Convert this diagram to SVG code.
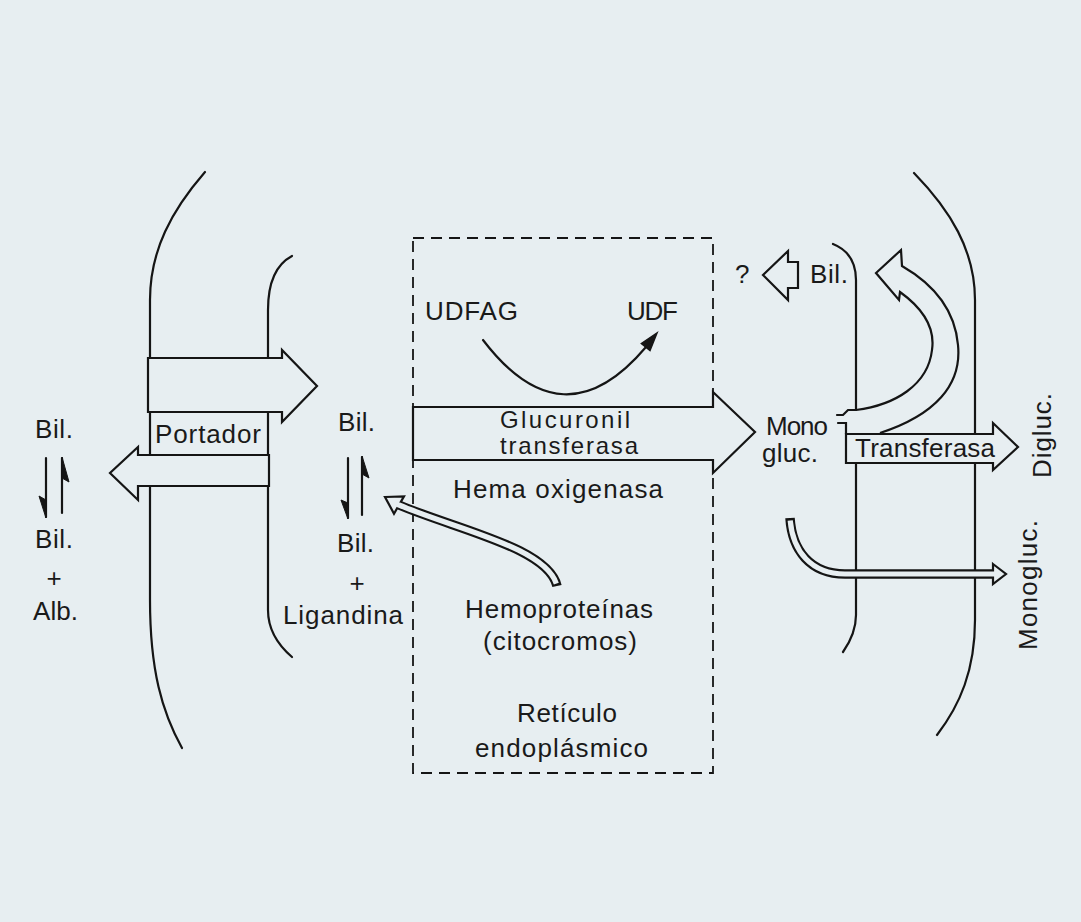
<svg xmlns="http://www.w3.org/2000/svg" width="1081" height="922" viewBox="0 0 1081 922">
<style>
.t{font-family:"Liberation Sans",Arial,sans-serif;font-size:26px;fill:#1a1a1a}
.s{font-size:24px}
.ln{fill:none;stroke:#151515;stroke-width:2.2;stroke-linecap:round}
.blk{fill:#e7eef1;stroke:#151515;stroke-width:2.2;stroke-linejoin:miter}
.dash{fill:none;stroke:#151515;stroke-width:1.8;stroke-dasharray:11 7}
.ho{fill:none;stroke:#151515;stroke-linecap:butt}
.hi{fill:none;stroke:#e7eef1;stroke-linecap:butt;stroke-dasharray:0 2.5 3000}
</style>
<rect width="1081" height="922" fill="#e7eef1"/>

<g id="membranes">
<path class="ln" d="M205 172 C172 210 150 250 150 300 L150 600 C150 670 162 712 182 748"/>
<path class="ln" d="M292 256 C275 265 268 285 268 310 L268 610 C268 630 278 645 292 657"/>
<path class="ln" d="M833 244 C848 250 856 262 856 280 L856 410"/>
<path class="ln" d="M856 463 L856 615 C856 630 850 642 843 652"/>
<path class="ln" d="M914 173 C950 210 975 250 975 300 L975 620 C975 670 960 705 937 735"/>
</g>

<g id="reticulo">
<rect class="dash" x="413" y="238" width="300" height="535"/>
</g>

<g id="connectors">
<polygon class="blk" points="148,358 282,358 282,350 317,386 282,422 282,412 148,412"/>
<polygon class="blk" points="269,455 138,455 138,447 110,473 138,500 138,486 269,486"/>
<polygon class="blk" points="413,407 713,407 713,392 755,432 713,473 713,460 413,460"/>
<polygon class="blk" points="846,434 993,434 993,423 1018,447 993,470 993,463 846,463"/>
<polygon class="blk" points="763,275 788,251 788,262 798,262 798,288 788,288 788,300"/>
<path class="blk" d="M880 433 C935 415 962 385 958 345 C955 310 935 285 902 266 L901 250 L876 273 L899 300 L900 292 C925 310 935 330 932 350 C928 385 895 405 856 410"/>
<polyline class="ln" points="856,410 848,410 843,415 837,415"/>
<polyline class="ln" points="838,423 846,423 846,434"/>
<!-- UDFAG -> UDF -->
<path class="ln" d="M483 340 Q563 445 646 347"/>
<polygon points="657,333 650,350.5 641.4,343.5" fill="#151515" stroke="#151515" stroke-width="1.5"/>
<!-- equilibrium arrows left -->
<line class="ln" x1="46" y1="458" x2="46" y2="517"/>
<polygon points="46,518 39,496 46,500" fill="#151515" stroke="#151515" stroke-width="1"/>
<line class="ln" x1="62" y1="458" x2="62" y2="513"/>
<polygon points="62,457 69,482 62,478" fill="#151515" stroke="#151515" stroke-width="1"/>
<!-- equilibrium arrows middle -->
<line class="ln" x1="348" y1="458" x2="348" y2="518"/>
<polygon points="348,519 341,500 348,503" fill="#151515" stroke="#151515" stroke-width="1"/>
<line class="ln" x1="362" y1="457" x2="362" y2="515"/>
<polygon points="362,456 369,478 362,474" fill="#151515" stroke="#151515" stroke-width="1"/>
<!-- hemoproteinas arrow -->
<path class="ho" stroke-width="9.5" d="M557 586 C548 548 458 530 399 505"/>
<polygon class="blk" points="385,497 404,496.3 394,513.7"/>
<path class="hi" stroke-width="5.2" d="M557 586 C548 548 458 530 399 505 L395.5 503.4"/>
<!-- monogluc arrow -->
<path class="ho" stroke-width="9.5" d="M790 518 C792 550 810 574 845 574 L994 574"/>
<polygon class="blk" points="993,564 1006,574 993,584"/>
<path class="hi" stroke-width="5.2" d="M790 518 C792 550 810 574 845 574 L997 574"/>
</g>

<g id="labels">
<text class="t" x="35" y="438" textLength="38">Bil.</text>
<text class="t" x="35" y="548" textLength="38">Bil.</text>
<text class="t" x="54" y="587" text-anchor="middle">+</text>
<text class="t" x="33" y="620" textLength="45">Alb.</text>
<text class="t" x="155" y="443" textLength="106">Portador</text>
<text class="t" x="338" y="431" textLength="37">Bil.</text>
<text class="t" x="337" y="552" textLength="37">Bil.</text>
<text class="t" x="357" y="592" text-anchor="middle">+</text>
<text class="t" x="283" y="624" textLength="120">Ligandina</text>
<text class="t" x="425" y="320" textLength="93">UDFAG</text>
<text class="t" x="627" y="320" textLength="51">UDF</text>
<text class="t s" x="500" y="428" textLength="130">Glucuronil</text>
<text class="t s" x="500" y="454" textLength="138">transferasa</text>
<text class="t" x="453" y="498" textLength="210">Hema oxigenasa</text>
<text class="t" x="465" y="618" textLength="188">Hemoproteínas</text>
<text class="t" x="483" y="650" textLength="154">(citocromos)</text>
<text class="t" x="517" y="722" textLength="100">Retículo</text>
<text class="t" x="475" y="757" textLength="173">endoplásmico</text>
<text class="t" x="735" y="283">?</text>
<text class="t" x="810" y="283" textLength="38">Bil.</text>
<text class="t" x="766" y="435" textLength="62">Mono</text>
<text class="t" x="762" y="462" textLength="56">gluc.</text>
<text class="t" x="855" y="457" textLength="140">Transferasa</text>
<text class="t" transform="translate(1051,478) rotate(-90)" textLength="85">Digluc.</text>
<text class="t" transform="translate(1037,650) rotate(-90)" textLength="130">Monogluc.</text>
</g>
</svg>
